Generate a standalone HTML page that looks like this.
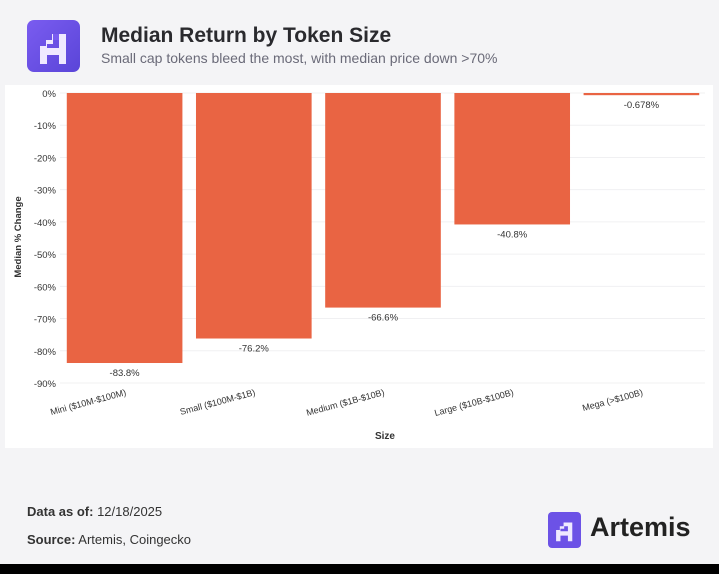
<!DOCTYPE html>
<html><head><meta charset="utf-8"><style>
body{margin:0;width:719px;height:574px;background:#f4f4f6;font-family:"Liberation Sans",sans-serif;position:relative;overflow:hidden}
.abs{position:absolute}
</style></head><body>
<div class="abs" style="left:27px;top:20px;width:53px;height:52px;border-radius:7px;background:linear-gradient(135deg,#7a5cf0,#5a45d8)">
<svg width="53" height="52" viewBox="0 0 53 52"><path d="M13 44V26h6v-6h6v-6h14v30h-7v-9H20v9z M20 28h12v-8h-6v4h-6z" fill="#efe9ff" fill-rule="evenodd"/><rect x="26" y="14" width="6" height="6" fill="#7a5cf0"/></svg></div>
<div class="abs" style="left:101px;top:24px;font-size:21px;font-weight:bold;color:#2a2a2e">Median Return by Token Size</div>
<div class="abs" style="left:101px;top:50px;font-size:14px;color:#6a6a78">Small cap tokens bleed the most, with median price down &gt;70%</div>
<div class="abs" style="left:5px;top:85px;width:708px;height:363px;background:#fff"></div>
<svg class="abs" style="left:0;top:0" width="719" height="574" id="chart"></svg>
<div class="abs" style="left:27px;top:504px;font-size:13px;color:#333"><b>Data as of:</b> 12/18/2025</div>
<div class="abs" style="left:27px;top:532px;font-size:13px;color:#333"><b>Source:</b> Artemis, Coingecko</div>
<div class="abs" style="left:548px;top:512px;width:33px;height:36px;border-radius:4px;background:#6c52e6">
<svg width="33" height="36" viewBox="0 0 53 52"><path d="M13 44V26h6v-6h6v-6h14v30h-7v-9H20v9z M20 28h12v-8h-6v4h-6z" fill="#efe9ff" fill-rule="evenodd"/></svg></div>
<div class="abs" style="left:590px;top:512px;font-size:27px;font-weight:bold;color:#222">Artemis</div>
<div class="abs" style="left:0;top:564px;width:719px;height:10px;background:#000"></div>
<script>
const categories=["Mini ($10M-$100M)","Small ($100M-$1B)","Medium ($1B-$10B)","Large ($10B-$100B)","Mega (>$100B)"];
const values=[-83.8,-76.2,-66.6,-40.8,-0.678];
const valueLabels=["-83.8%","-76.2%","-66.6%","-40.8%","-0.678%"];
const yTicks=[0,-10,-20,-30,-40,-50,-60,-70,-80,-90];
const NS="http://www.w3.org/2000/svg";
const svg=document.getElementById('chart');
const x0=60,band=129.2,y0=93,pxPer=32.22;
const y=v=>y0-v*pxPer/10;
const xc=i=>x0+band*(i+0.5);
function mk(t,a){const e=document.createElementNS(NS,t);for(const k in a)e.setAttribute(k,a[k]);svg.appendChild(e);return e;}
yTicks.forEach(t=>{
 const g=mk('line',{x1:x0,x2:705,y1:y(t),y2:y(t),stroke:'#f0f0f2'});
 
 
 const l=mk('text',{x:56,y:y(t)+4,'text-anchor':'end','font-size':9.5,fill:'#333'});
 l.textContent=t+'%';
 
 
});
categories.forEach((c,i)=>{
 const bw=band*0.895, v=values[i];
 const r=mk('rect',{x:xc(i)-bw/2,y:y0,width:bw,height:Math.max(y(v)-y0,1.5),fill:'#e96443'});
 
 
 const t=mk('text',{x:xc(i),y:y(v)+13,'text-anchor':'middle','font-size':9.5,fill:'#333'});
 t.textContent=valueLabels[i];
 
 
 const cx=xc(i)+2,cy=y(-90)+12;
 const xl=mk('text',{x:cx,y:cy,'text-anchor':'end','font-size':9,fill:'#333',transform:`rotate(-15 ${cx} ${cy})`});
 xl.textContent=c;
 
 
});
const xt=mk('text',{x:385,y:439,'text-anchor':'middle','font-size':10,'font-weight':'bold',fill:'#333'});
xt.textContent='Size';


const yt=mk('text',{x:21,y:237,'text-anchor':'middle','font-size':9.5,'font-weight':'bold',fill:'#333',transform:'rotate(-90 21 237)'});
yt.textContent='Median % Change';


</script>
</body></html>
